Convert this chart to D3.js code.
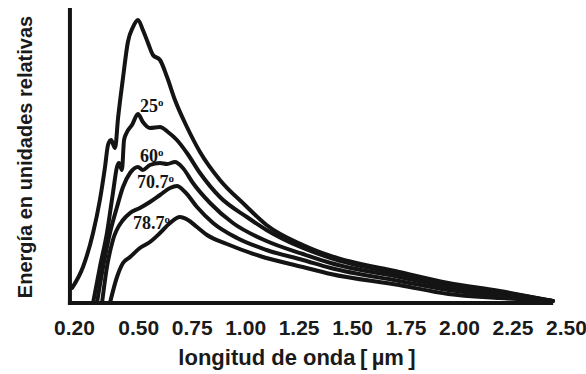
<!DOCTYPE html>
<html>
<head>
<meta charset="utf-8">
<script src="https://cdn.jsdelivr.net/npm/d3@7"></script>
<style>
  html, body { margin: 0; padding: 0; background: #fff; }
  svg { display: block; }
</style>
</head>
<body>
<svg id="chart" width="586" height="374"></svg>
<script>
// Wavelength ticks (µm)
const tickValues = [0.20, 0.50, 0.75, 1.00, 1.25, 1.50, 1.75, 2.00, 2.25, 2.50];

// Series: zenith angles and spectra [wavelength µm, relative energy]
const seriesNames = ["0º", "25º", "60º", "70.7º", "78.7º"];

const s0 = [[0.191,15],[0.242,36],[0.289,70],[0.321,103],[0.345,136],[0.359,158],[0.373,163],[0.392,155],
  [0.406,185],[0.429,225],[0.452,261],[0.476,276],[0.499,283],[0.522,273],[0.546,260],[0.569,248],[0.602,243],
  [0.635,226],[0.672,203],[0.728,176],[0.789,151],[0.882,123],[0.999,98],[1.10,78],[1.27,58],[1.40,47],
  [1.72,31],[1.95,20],[2.19,12],[2.438,2]];
const s25 = [[0.289,0],[0.321,36],[0.354,70],[0.382,110],[0.401,136],[0.410,140],[0.424,133],[0.434,163],
  [0.448,171],[0.471,178],[0.499,189],[0.522,181],[0.555,175],[0.602,176],[0.639,171],[0.681,163],[0.728,150],
  [0.789,130],[0.882,106],[1.008,86],[1.10,73],[1.27,55],[1.40,45],[1.72,29],[1.95,18],[2.19,11],[2.438,2]];
const s60 = [[0.307,0],[0.336,36],[0.368,70],[0.401,96],[0.429,116],[0.462,130],[0.499,136],[0.522,133],
  [0.555,138],[0.602,140],[0.635,139],[0.672,141],[0.709,135],[0.756,120],[0.836,100],[0.943,80],[1.10,62],
  [1.27,49],[1.40,40],[1.72,26],[1.95,16],[2.19,9],[2.438,2]];
const s707 = [[0.331,0],[0.354,36],[0.382,63],[0.429,83],[0.462,90],[0.508,95],[0.555,101],[0.602,108],
  [0.649,115],[0.681,117],[0.719,111],[0.775,96],[0.850,80],[0.962,65],[1.10,53],[1.27,43],[1.40,35],
  [1.72,22],[1.95,13],[2.19,7],[2.438,2]];
const s787 = [[0.368,0],[0.401,26],[0.429,40],[0.462,46],[0.508,55],[0.555,61],[0.602,70],[0.649,80],
  [0.695,86],[0.733,83],[0.775,76],[0.822,68],[0.915,59],[1.069,47],[1.27,36],[1.40,29],[1.72,18],
  [1.95,9],[2.19,5],[2.438,2]];
const seriesData = [s0, s25, s60, s707, s787];

// Curve labels: [text, superscript, wavelength µm, relative energy]
const curveLabels = [["25","o",0.508,191],["60","o",0.508,141],["70.7","o",0.494,115],["78.7","o",0.476,74]];

const svg = d3.select("#chart");
const x = d3.scaleLinear().domain([0.2, 2.5]).range([74, 566]);
const y = d3.scaleLinear().domain([0, 295]).range([303, 8]);
const xAxisStart = 0.181, xAxisEnd = 2.44;

// Curves
const line = d3.line().x(d => x(d[0])).y(d => y(d[1])).curve(d3.curveMonotoneX);
svg.append("g").selectAll("path").data(seriesData).join("path")
  .attr("d", line)
  .attr("fill", "none")
  .attr("stroke", "#141414")
  .attr("stroke-width", 4)
  .attr("stroke-linejoin", "round")
  .attr("stroke-linecap", "round");

// Axis lines
svg.append("line")
  .attr("x1", x(xAxisStart)).attr("x2", x(xAxisStart))
  .attr("y1", y(295)).attr("y2", y(0) + 2)
  .attr("stroke", "#141414").attr("stroke-width", 4);
svg.append("line")
  .attr("x1", x(xAxisStart) - 2).attr("x2", x(xAxisEnd))
  .attr("y1", y(0)).attr("y2", y(0))
  .attr("stroke", "#141414").attr("stroke-width", 4);

// X tick labels
const xAxis = d3.axisBottom(x).tickValues(tickValues).tickFormat(d3.format(".2f")).tickSize(0).tickPadding(17);
const gx = svg.append("g").attr("transform", `translate(0,${y(0)})`).call(xAxis);
gx.select(".domain").remove();
gx.selectAll("text")
  .attr("font-family", "Liberation Sans, Arial, sans-serif")
  .attr("font-weight", "bold")
  .attr("font-size", 21)
  .attr("fill", "#1a1a1a");

// Axis titles
svg.append("text")
  .attr("x", 297).attr("y", 365)
  .attr("text-anchor", "middle")
  .attr("font-family", "Liberation Sans, Arial, sans-serif")
  .attr("font-weight", "bold").attr("font-size", 22).attr("fill", "#1a1a1a")
  .text("longitud de onda\u2009[\u2009\u00b5m\u2009]");

svg.append("text")
  .attr("transform", "translate(32,157) rotate(-90)")
  .attr("text-anchor", "middle")
  .attr("font-family", "Liberation Sans, Arial, sans-serif")
  .attr("font-weight", "bold").attr("font-size", 20).attr("fill", "#1a1a1a")
  .text("Energía en unidades relativas");

// Curve labels
const lbl = svg.append("g").selectAll("text").data(curveLabels).join("text")
  .attr("x", d => x(d[2])).attr("y", d => y(d[3]))
  .attr("font-family", "Liberation Serif, Times New Roman, serif")
  .attr("font-weight", "bold").attr("font-size", 18).attr("fill", "#141414");
lbl.append("tspan").text(d => d[0]);
lbl.append("tspan").attr("font-size", 11).attr("dy", -6).text(d => d[1]);
</script>
</body>
</html>
